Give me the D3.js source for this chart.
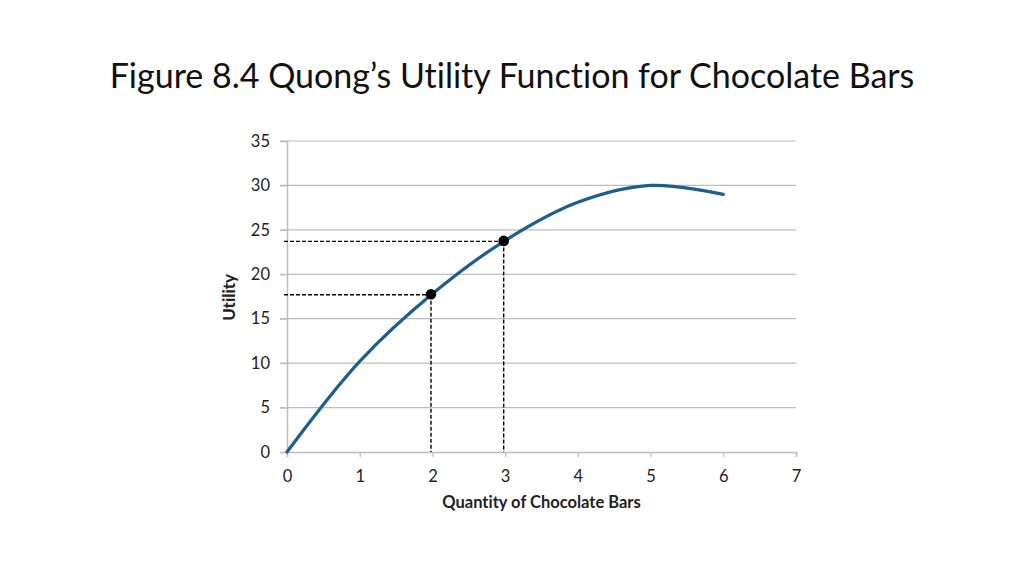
<!DOCTYPE html>
<html><head><meta charset="utf-8">
<script src="https://cdn.jsdelivr.net/npm/d3@7"></script>
<style>body{margin:0;background:#fff;} svg{display:block;} text{font-variant-ligatures:none;}</style>
</head><body>
<svg id="c" width="1024" height="576"></svg>
<script>
const title = "Figure 8.4 Quong\u2019s Utility Function for Chocolate Bars";
const xTitle = "Quantity of Chocolate Bars";
const yTitle = "Utility";
const quantity = [0, 1, 2, 3, 4, 5, 6];
const utility = [0, 10.2, 17.8, 23.8, 28.1, 30.0, 29.0];
const markedQuantity = [1.98, 2.98];
const markedUtility = [17.7, 23.7];
const xTicks = [0, 1, 2, 3, 4, 5, 6, 7];
const yTicks = [0, 5, 10, 15, 20, 25, 30, 35];

const svg = d3.select("#c");
const font = "Lato, 'Open Sans', sans-serif";
const x = d3.scaleLinear().domain([0, 7]).range([287, 796]);
const y = d3.scaleLinear().domain([0, 35]).range([452, 141]);
const grid = "#bdbdbd";

// title
const t = svg.append("text").attr("x", 512).attr("y", 88).attr("text-anchor", "middle")
  .attr("font-family", font).attr("font-size", 36).attr("fill", "#111").text(title);
const w = t.node().getComputedTextLength();
t.attr("font-size", 36 * 805 / w);

// gridlines
svg.append("g").selectAll("line").data(yTicks.filter(d => d > 0)).join("line")
  .attr("x1", x(0) - 7).attr("x2", x(7)).attr("y1", d => y(d)).attr("y2", d => y(d))
  .attr("stroke", grid).attr("stroke-width", 1.2);

// y axis
const ya = svg.append("g").attr("transform", `translate(${x(0)},0)`)
  .call(d3.axisLeft(y).tickValues(yTicks).tickFormat(d3.format("d")).tickSize(7).tickPadding(10));
ya.select(".domain").attr("stroke", grid).attr("stroke-width", 1.5);
ya.selectAll(".tick line").attr("stroke", grid).attr("stroke-width", 1.2);
ya.selectAll("text").attr("font-family", font).attr("font-size", 16.5).attr("fill", "#222");

// x axis
const xa = svg.append("g").attr("transform", `translate(0,${y(0)})`)
  .call(d3.axisBottom(x).tickValues(xTicks).tickFormat(d3.format("d")).tickSize(5).tickPadding(13));
xa.select(".domain").attr("stroke", grid).attr("stroke-width", 1.5);
xa.selectAll(".tick line").attr("stroke", grid).attr("stroke-width", 1.2);
xa.selectAll("text").attr("font-family", font).attr("font-size", 16.5).attr("fill", "#222");

// axis titles
svg.append("text").attr("x", x(3.5)).attr("y", 508).attr("text-anchor", "middle")
  .attr("font-family", font).attr("font-weight", "bold").attr("font-size", 16.5).attr("fill", "#222").text(xTitle);
svg.append("text").attr("transform", `translate(235,${y(17.4)}) rotate(-90)`).attr("text-anchor", "middle")
  .attr("font-family", font).attr("font-weight", "bold").attr("font-size", 17).attr("fill", "#222").text(yTitle);

// dashed guides
const pts = markedQuantity.map((q, i) => ({q, u: markedUtility[i]}));
const g = svg.append("g").attr("stroke", "#000").attr("stroke-width", 1.4).attr("stroke-dasharray", "4,2");
g.selectAll("line.h").data(pts).join("line").attr("class", "h")
  .attr("x1", x(0) - 3).attr("x2", d => x(d.q)).attr("y1", d => y(d.u)).attr("y2", d => y(d.u));
g.selectAll("line.v").data(pts).join("line").attr("class", "v")
  .attr("x1", d => x(d.q)).attr("x2", d => x(d.q)).attr("y1", d => y(d.u)).attr("y2", y(0));

// curve
const data = quantity.map((q, i) => [q, utility[i]]);
svg.append("path").datum(data)
  .attr("d", d3.line().x(d => x(d[0])).y(d => y(d[1])).curve(d3.curveCatmullRom.alpha(0.5)))
  .attr("fill", "none").attr("stroke", "#1d5e8c").attr("stroke-width", 3.2).attr("stroke-linecap", "round");

// dots
svg.append("g").selectAll("circle").data(pts).join("circle")
  .attr("cx", d => x(d.q)).attr("cy", d => y(d.u) - 0.5).attr("r", 5.3).attr("fill", "#000");
</script>
</body></html>
